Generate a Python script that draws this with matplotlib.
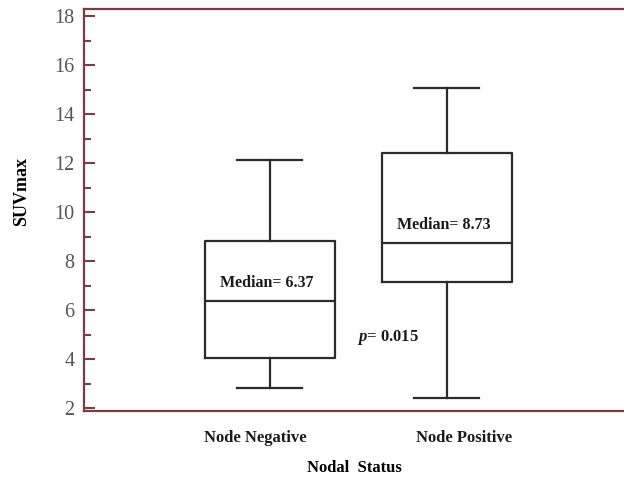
import matplotlib
matplotlib.use("Agg")
import matplotlib.pyplot as plt
from matplotlib.ticker import MultipleLocator

# Summary statistics of SUVmax by nodal status
groups = ["Node Negative", "Node Positive"]
whisker_low = [2.82, 2.41]
q1 = [4.04, 7.14]
medians = [6.37, 8.73]
q3 = [8.82, 12.41]
whisker_high = [12.12, 15.06]
p_value = 0.015

plt.rcParams["font.family"] = ["Liberation Serif", "DejaVu Serif"]
plt.rcParams["mathtext.fontset"] = "custom"
plt.rcParams["mathtext.it"] = "Liberation Serif:italic:bold"
plt.rcParams["mathtext.rm"] = "Liberation Serif:bold"

fig = plt.figure(figsize=(6.24, 4.79), dpi=100)
ax = fig.add_axes([84 / 624, 68 / 479, (624 - 84) / 624, (411 - 9) / 479])

stats = [
    dict(label=g, whislo=wl, q1=a, med=m, q3=b, whishi=wh)
    for g, wl, a, m, b, wh in zip(groups, whisker_low, q1, medians, q3, whisker_high)
]
line_kw = dict(color="#2b2b2b", linewidth=1.6)
ax.bxp(stats, positions=[1, 2], widths=0.735, showfliers=False,
       boxprops=line_kw, medianprops=line_kw, whiskerprops=line_kw, capprops=line_kw)

ax.set_xlim(-0.05, 3.0)
ax.set_ylim(1.88, 18.29)

spine_color = "#7a3c48"
for side in ["left", "top", "bottom"]:
    ax.spines[side].set_color(spine_color)
    ax.spines[side].set_linewidth(1.6)
ax.spines["right"].set_visible(False)

ax.yaxis.set_major_locator(MultipleLocator(2))
ax.yaxis.set_minor_locator(MultipleLocator(1))
ax.tick_params(axis="y", which="major", direction="in", length=8, width=1.5,
               color=spine_color, labelsize=14.5, labelcolor="#555555", pad=7)
ax.tick_params(axis="y", which="minor", direction="in", length=5, width=1.5,
               color=spine_color)
ax.tick_params(axis="x", length=0, labelsize=12, pad=14)
# group labels sit slightly outward from the box centres
ax.set_xticks([0.92, 2.095])
ax.set_xticklabels(groups, fontweight="bold", color="#1a1a1a")

ax.set_ylabel("SUVmax", fontsize=13, fontweight="bold")
ax.yaxis.set_label_coords(-0.1, 0.545)
ax.set_xlabel("Nodal  Status", fontsize=12, fontweight="bold", labelpad=10)

for pos, m in zip([1, 2], medians):
    ax.text(pos - 0.02, m + 0.75, f"Median= {m:.2f}", ha="center", va="center",
            fontsize=11.5, fontweight="bold", color="#1a1a1a")

ax.text(1.667, 4.9, f"$\\mathit{{p}}$= {p_value:.3f}", ha="center", va="center",
        fontsize=12, fontweight="bold", color="#1a1a1a")

fig.savefig("out.png", dpi=100)
